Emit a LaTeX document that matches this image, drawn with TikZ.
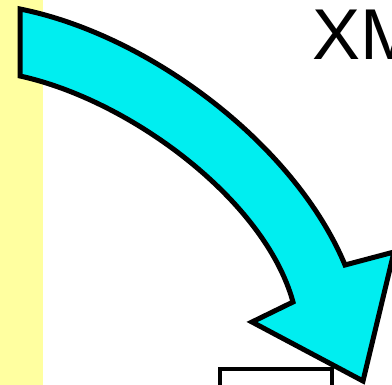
\documentclass[tikz,border=0pt]{standalone}
\usepackage{fontspec}
\setmainfont{Liberation Sans}
\usepackage{tikz}
\usetikzlibrary{positioning}
\usepackage{xcolor}
\definecolor{paleyellow}{RGB}{255,255,160}
\definecolor{arrowcyan}{RGB}{0,238,240}

\begin{document}
\begin{tikzpicture}[x=1pt,y=-1pt]
    \useasboundingbox (0,0) rectangle (392,385);
    \clip (0,0) rectangle (392,385);
    % Yellow strip
    \fill[paleyellow] (0,0) rectangle (43,385);

    % Big curved arrow
    \draw[line width=5pt,line join=miter,fill=arrowcyan]
      (20,9) .. controls (150,35) and (295,145) .. (345,265)
      -- (394,252) -- (363,381) -- (252,322) -- (293,302)
      .. controls (265,200) and (130,100) .. (20,76) -- cycle;

    % Title
    \node[anchor=base west,inner sep=0pt,font=\fontsize{72}{72}\selectfont] (title) at (312,60) {XM};

    % Box below
    \node[draw,line width=4pt,minimum width=112pt,minimum height=40pt,inner sep=0pt,anchor=north west] (box) at (218,367) {};
  \end{tikzpicture}
\end{document}
